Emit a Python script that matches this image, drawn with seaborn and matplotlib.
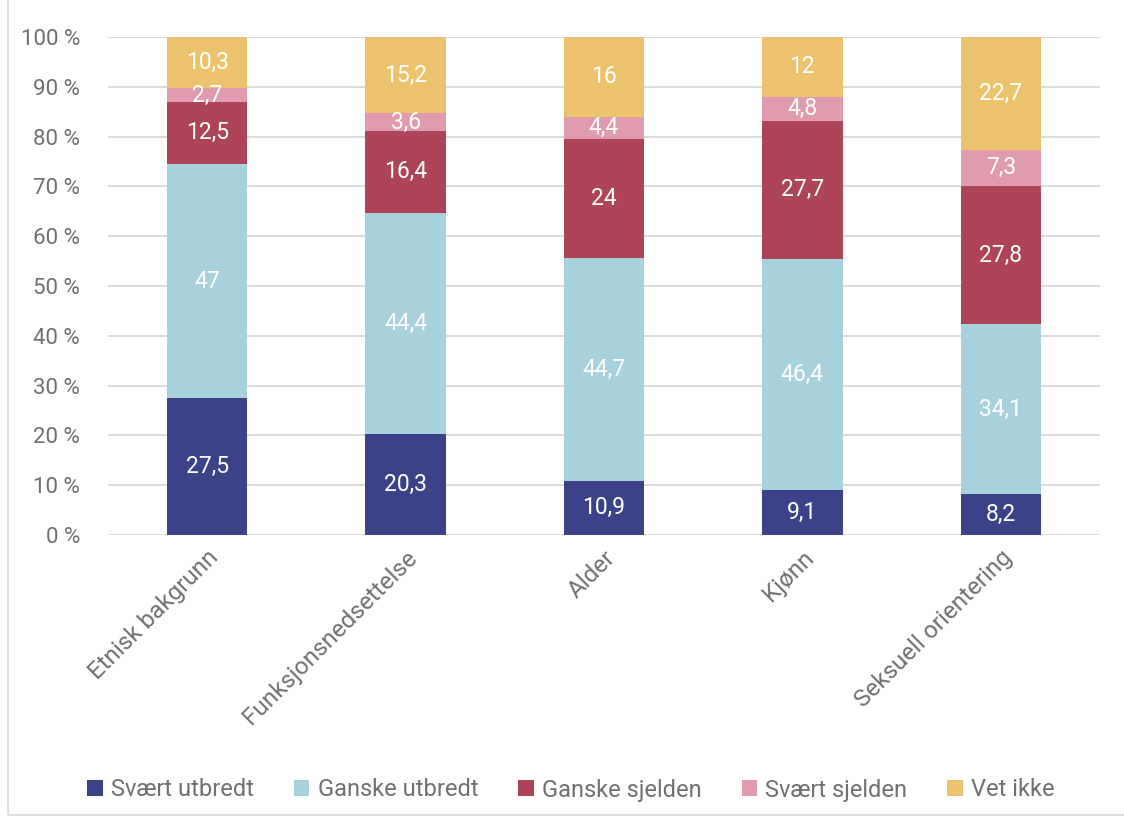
import pandas as pd
import matplotlib.pyplot as plt
import seaborn as sns
from matplotlib.patches import Rectangle

categories = ["Etnisk bakgrunn", "Funksjonsnedsettelse", "Alder", "Kjønn", "Seksuell orientering"]
series = ["Svært utbredt", "Ganske utbredt", "Ganske sjelden", "Svært sjelden", "Vet ikke"]

svaert_utbredt = [27.5, 20.3, 10.9, 9.1, 8.2]
ganske_utbredt = [47, 44.4, 44.7, 46.4, 34.1]
ganske_sjelden = [12.5, 16.4, 24, 27.7, 27.8]
svaert_sjelden = [2.7, 3.6, 4.4, 4.8, 7.3]
vet_ikke = [10.3, 15.2, 16, 12, 22.7]

values = [svaert_utbredt, ganske_utbredt, ganske_sjelden, svaert_sjelden, vet_ikke]
colors = ["#3B4287", "#A8D1DE", "#AE4457", "#E09BAF", "#EDC26D"]

sns.set_style("white")
plt.rcParams['font.family'] = ['Roboto', 'DejaVu Sans']
grey = "#707070"

fig = plt.figure(figsize=(11.24, 8.23), dpi=100)
ax = fig.add_axes([108 / 1124, 1 - 535 / 823, 992 / 1124, 498 / 823])

bottom = [0] * len(categories)
for name, vals, col in zip(series, values, colors):
    df = pd.DataFrame({"Kategori": categories, "Verdi": vals})
    sns.barplot(data=df, x="Kategori", y="Verdi", color=col, bottom=bottom,
                width=0.405, label=name, ax=ax, saturation=1, linewidth=0)
    for i, v in enumerate(vals):
        txt = f"{v:g}".replace(".", ",")
        ax.text(i, bottom[i] + v / 2, txt, ha="center", va="center",
                color="white", fontsize=16.5)
    bottom = [b + v for b, v in zip(bottom, vals)]

if ax.get_legend() is not None:
    ax.get_legend().remove()

ax.set_ylim(0, 100)
ax.set_xlim(-0.5, 4.5)
ax.set_yticks(range(0, 101, 10))
ax.set_yticklabels([f"{t} %" for t in range(0, 101, 10)])
ax.yaxis.grid(True, color="#D9D9D9", linewidth=1.3)
ax.set_axisbelow(True)
for s in ax.spines.values():
    s.set_visible(False)
ax.tick_params(axis="both", length=0, colors=grey, labelsize=16)
ax.tick_params(axis="x", labelsize=17.5, pad=8)
ax.tick_params(axis="y", pad=20)
ax.set_xlabel("")
ax.set_ylabel("")
plt.setp(ax.get_xticklabels(), rotation=45, ha="right", rotation_mode="anchor")

handles, labels = ax.get_legend_handles_labels()
leg = fig.legend(handles, labels, loc="center", bbox_to_anchor=(0.508, 1 - 790 / 823),
                 ncol=5, frameon=False, fontsize=17, handlelength=0.65, handleheight=0.65,
                 handletextpad=0.35, columnspacing=1.7)
for t in leg.get_texts():
    t.set_color(grey)

fig.patches.append(Rectangle((8 / 1124, 1 - 815 / 823), 1.2, 1.2, transform=fig.transFigure,
                             fill=False, edgecolor="#D9D9D9", linewidth=1.2))

fig.savefig("out.png", dpi=100)
